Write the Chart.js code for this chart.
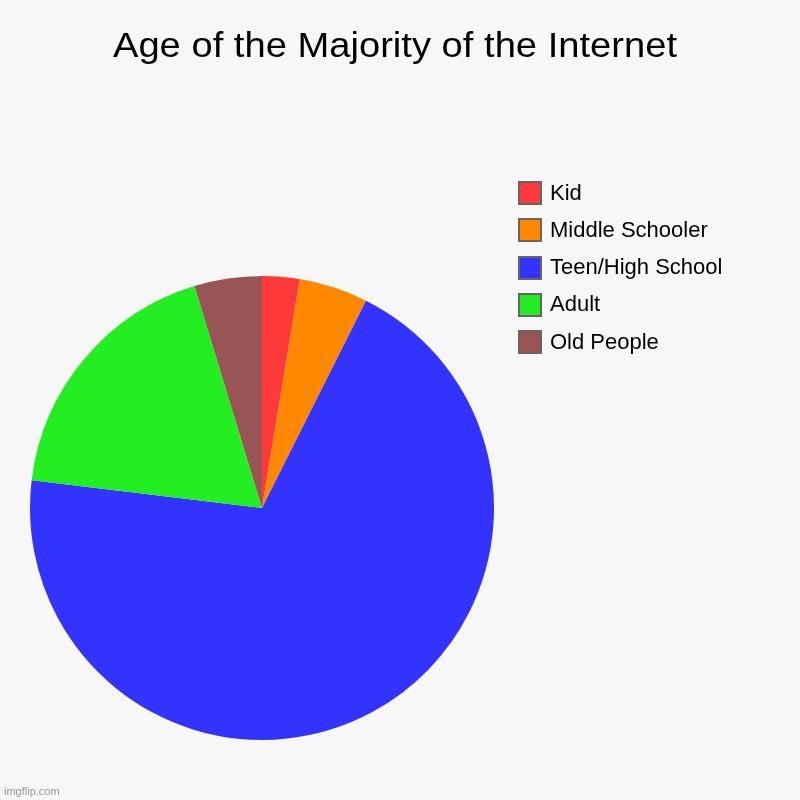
<!DOCTYPE html>
<html>
<head>
<meta charset="utf-8">
<script src="https://cdn.jsdelivr.net/npm/chart.js@4"></script>
<style>
  html, body { margin: 0; padding: 0; background: #f7f7f7; }
  #wrap { position: relative; width: 800px; height: 800px; font-family: "Liberation Sans", Arial, sans-serif; }
  #title { position: absolute; left: 0; top: 27px; width: 790px; text-align: center; font-size: 35px; line-height: 35px; color: #000; transform: scaleX(1.09); transform-origin: 395px 0; }
  .box { position: absolute; left: 518px; width: 24px; height: 24px; box-sizing: border-box; border: 2px solid #666; }
  .txt { position: absolute; left: 550px; font-size: 22px; line-height: 22px; color: #000; white-space: nowrap; }
  #mark { position: absolute; left: 4px; top: 785px; font-size: 11px; color: #999; }
</style>
</head>
<body>
<div id="wrap">
  <canvas id="chart" width="800" height="800"></canvas>
  <div id="title">Age of the Majority of the Internet</div>
  <div id="legend"></div>
  <div id="mark">imgflip.com</div>
</div>
<script>
var grupos = ["Kid", "Middle Schooler", "Teen/High School", "Adult", "Old People"];
var valores = [2.6, 4.8, 69.5, 18.4, 4.7];
var cores = ["#ff3939", "#ff8800", "#3333ff", "#22ee22", "#995555"];

// legenda feita a mao
var leg = document.getElementById("legend");
grupos.forEach(function (g, i) {
    var y = 181 + i * 37.3;
    var b = document.createElement("div");
    b.className = "box";
    b.style.top = y + "px";
    b.style.background = cores[i];
    leg.appendChild(b);
    var t = document.createElement("div");
    t.className = "txt";
    t.style.top = (y + 0.5) + "px";
    t.textContent = g;
    leg.appendChild(t);
});

var ct = document.getElementById("chart");

var grafico = new Chart(ct, {
    type: 'pie',
    data: {
        labels: grupos,
        datasets: [{
            data: valores,
            backgroundColor: cores,
            borderWidth: 0
        }]
    },
    options: {
        responsive: false,
        animation: false,
        layout: {
            padding: { left: 30, top: 276, right: 306, bottom: 60 }
        },
        plugins: {
            legend: { display: false },
            title: { display: false },
            tooltip: { enabled: false }
        }
    }
})
</script>
</body>
</html>
